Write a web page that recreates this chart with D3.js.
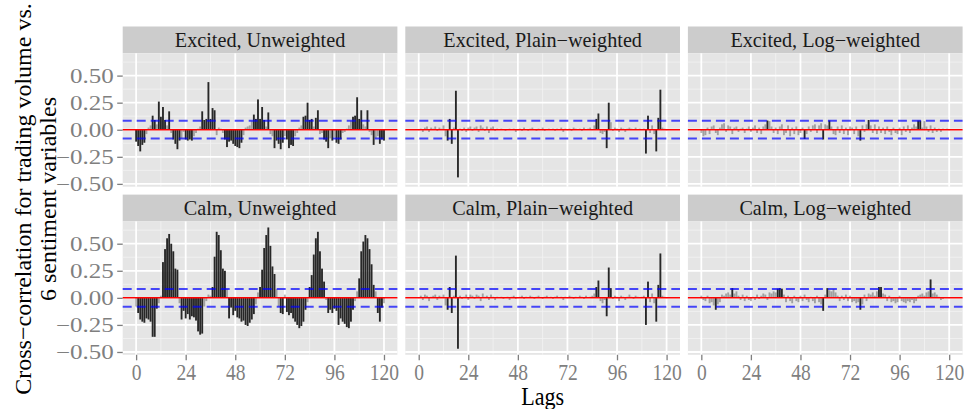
<!DOCTYPE html>
<html><head><meta charset="utf-8">
<script src="https://cdn.jsdelivr.net/npm/d3@7"></script>
<style>body{margin:0;background:#fff} svg{display:block}</style>
</head><body><svg id="c" width="964" height="409"></svg>
<script>
// ---------- data ----------
const lags = d3.range(0, 121);
const rowLabels = ["Excited", "Calm"];
const colLabels = ["Unweighted", "Plain\u2212weighted", "Log\u2212weighted"];
const yTicks = [-0.5, -0.25, 0, 0.25, 0.5];
const xTicks = [0, 24, 48, 72, 96, 120];
const confBand = 0.082;

const excitedUnweighted = [-0.11,-0.15,-0.20,-0.14,-0.12,-0.04,0.02,0.04,0.13,0.09,0.05,0.26,0.12,0.21,0.09,0.04,0.17,-0.03,-0.09,-0.13,-0.18,-0.10,-0.08,-0.02,-0.09,-0.10,-0.09,-0.10,-0.06,-0.03,0.01,0.03,0.17,0.09,0.10,0.44,0.10,0.20,0.18,-0.05,0.02,0.01,-0.03,-0.09,-0.16,-0.11,-0.10,-0.13,-0.15,-0.16,-0.17,-0.12,-0.05,0.02,0.03,0.04,0.08,0.14,0.10,0.28,0.10,0.21,0.09,0.03,0.16,-0.04,-0.06,-0.17,-0.10,-0.13,-0.18,-0.12,-0.06,-0.09,-0.17,-0.14,-0.15,-0.06,-0.03,0.02,0.04,0.12,0.13,0.25,0.09,0.10,0.03,0.11,0.18,-0.04,-0.03,-0.09,-0.11,-0.17,-0.08,-0.10,-0.07,-0.12,-0.13,-0.09,-0.03,-0.02,0.01,0.04,0.08,0.12,0.13,0.30,0.10,0.18,0.05,0.03,0.18,-0.02,-0.05,-0.14,-0.08,-0.06,-0.13,-0.09,-0.10];
const excitedPlain = [0.00,0.01,-0.02,0.02,0.03,-0.02,0.02,0.01,0.03,-0.01,0.02,0.01,0.04,-0.06,-0.10,0.10,-0.13,0.02,0.36,-0.44,0.01,-0.01,0.02,-0.02,0.02,0.03,-0.01,0.02,0.03,-0.02,0.04,0.02,-0.01,0.03,-0.03,0.02,0.03,-0.01,0.01,0.00,0.01,0.00,-0.01,0.00,0.01,0.00,0.01,-0.02,0.00,0.01,-0.01,0.02,0.00,-0.01,0.01,0.02,0.00,-0.01,0.01,0.00,0.02,-0.01,0.00,0.01,0.00,0.01,-0.01,0.01,0.00,0.02,-0.02,0.01,0.00,0.01,-0.01,0.02,0.01,0.00,0.01,-0.01,0.02,0.00,0.01,0.02,0.00,0.04,0.10,0.15,-0.03,-0.04,-0.02,-0.17,0.25,0.07,-0.01,0.02,0.01,-0.02,0.02,0.01,-0.02,0.01,0.02,0.01,0.00,0.02,0.00,0.01,0.00,0.01,-0.22,0.13,-0.03,0.04,-0.04,-0.20,0.11,0.37,0.02,0.01,0.00];
const excitedLog = [-0.03,-0.06,-0.05,0.02,-0.04,0.03,0.04,-0.03,-0.05,0.02,0.05,0.06,-0.02,0.04,0.03,-0.04,0.02,0.03,-0.02,0.01,0.02,-0.03,0.01,0.03,-0.02,0.02,0.04,-0.03,0.02,-0.04,0.03,0.05,0.085,0.08,0.03,-0.03,0.02,-0.04,0.03,0.05,-0.05,-0.03,0.04,-0.06,0.02,-0.04,0.03,-0.05,-0.03,0.02,-0.085,-0.04,0.03,-0.02,0.04,0.05,-0.03,0.04,0.06,-0.09,0.05,0.04,0.085,0.03,-0.04,-0.05,0.03,-0.03,0.04,-0.04,0.02,-0.05,0.03,0.02,-0.04,0.03,-0.06,-0.10,0.04,-0.02,0.05,0.09,0.04,-0.03,0.05,-0.04,0.03,-0.03,0.02,-0.04,0.03,-0.02,-0.05,0.02,-0.03,-0.04,0.02,-0.05,0.03,-0.02,0.04,-0.03,0.02,0.05,0.03,0.085,0.085,0.02,0.08,0.03,-0.02,0.04,-0.03,0.02,-0.02,0.01,-0.02,0.01,0.00,0.01,0.00];
const calmUnweighted = [-0.08,-0.14,-0.20,-0.22,-0.23,-0.19,-0.20,-0.22,-0.36,-0.36,-0.10,-0.05,0.02,0.33,0.45,0.55,0.59,0.50,0.43,0.27,0.26,-0.05,-0.20,-0.12,-0.19,-0.15,-0.20,-0.17,-0.18,-0.21,-0.31,-0.34,-0.33,-0.08,-0.03,0.03,0.02,0.10,0.38,0.61,0.58,0.44,0.27,0.25,0.08,-0.19,-0.09,-0.16,-0.12,-0.18,-0.19,-0.22,-0.21,-0.25,-0.26,-0.23,-0.20,-0.15,-0.06,0.05,0.10,0.26,0.46,0.58,0.65,0.48,0.29,0.22,0.08,-0.08,-0.14,-0.15,0.03,-0.13,-0.16,-0.14,-0.19,-0.22,-0.25,-0.28,-0.26,-0.22,-0.11,-0.04,0.10,0.21,0.40,0.55,0.61,0.43,0.27,0.15,-0.02,-0.14,-0.11,-0.14,-0.10,-0.12,-0.25,-0.19,-0.22,-0.24,-0.27,-0.28,-0.22,-0.11,-0.03,0.06,0.18,0.43,0.52,0.58,0.55,0.45,0.31,0.12,0.06,-0.14,-0.22,-0.09,-0.05];
const calmPlain = [0.00,0.02,-0.02,0.03,0.02,-0.03,0.01,0.02,0.03,-0.02,0.02,0.01,0.03,-0.07,-0.11,0.10,-0.14,0.02,0.39,-0.47,0.02,-0.01,0.01,0.03,-0.02,0.03,0.02,-0.01,0.03,0.02,-0.03,0.04,0.01,0.02,-0.02,0.03,0.01,-0.02,0.01,0.00,0.01,-0.01,0.00,0.01,-0.02,0.01,0.02,-0.01,0.00,0.01,0.02,-0.01,0.01,0.00,0.02,0.01,-0.01,0.01,0.02,0.00,-0.01,0.01,0.02,0.00,0.01,-0.01,0.01,0.02,0.00,0.01,-0.02,0.01,0.00,0.02,0.01,-0.01,0.01,0.00,0.02,0.01,-0.01,0.02,0.00,0.01,0.02,0.04,0.10,0.16,-0.03,-0.05,-0.02,-0.17,0.28,0.09,-0.01,0.02,0.01,-0.03,0.02,0.01,-0.02,0.01,0.03,0.01,-0.01,0.02,0.01,0.00,0.01,0.02,-0.25,0.15,-0.04,0.04,-0.05,-0.22,0.12,0.41,0.02,0.01,0.00];
const calmLog = [0.02,-0.02,-0.03,0.02,-0.05,-0.04,-0.07,-0.11,-0.06,-0.04,0.03,0.02,0.04,0.05,0.03,0.09,0.04,0.06,0.02,-0.02,0.03,-0.03,0.02,-0.02,-0.03,0.01,-0.02,0.03,-0.01,0.02,0.04,0.03,-0.02,0.05,0.04,0.06,0.05,0.085,0.09,0.085,0.03,-0.04,0.02,-0.03,-0.05,0.02,-0.03,-0.04,0.02,-0.03,0.03,-0.02,-0.04,0.01,-0.03,-0.05,0.02,-0.04,-0.06,-0.12,0.03,0.09,0.07,0.06,0.08,0.05,0.02,-0.03,0.02,-0.02,0.03,-0.03,0.02,-0.04,-0.03,-0.05,-0.04,-0.11,-0.06,0.03,-0.03,0.04,0.03,0.05,0.02,0.06,0.10,0.10,0.04,0.03,-0.03,0.02,-0.04,-0.03,-0.05,-0.04,0.02,-0.03,-0.04,-0.05,-0.03,-0.04,-0.02,-0.05,-0.03,0.02,0.03,0.04,0.02,0.05,0.06,0.17,0.04,0.05,0.03,0.01,-0.02,-0.01,0.00,0.00,0.00];

const panelData = [
  [excitedUnweighted, excitedPlain, excitedLog],
  [calmUnweighted, calmPlain, calmLog]
];

// ---------- layout ----------
const svg = d3.select("#c");
const left = 122.7, panelW = 274.7, gap = 7.9;
const stripTop = 26.5, stripH = 26.8, panelH = 133.4;
const serif = "'Liberation Serif','DejaVu Serif',serif";
const yLabSX = 1.25, xLabSX = 0.85;

const all = panelData.flat(2);
const lo = d3.min(all), hi = d3.max(all), ex = (hi - lo) * 0.05;
const yDomain = [lo - ex, hi + ex];
const xDomain = [-0.45 - 120.9 * 0.05, 120.45 + 120.9 * 0.05];

const minorY = [-0.375, -0.125, 0.125, 0.375, 0.625];
const minorX = [12, 36, 60, 84, 108];

panelData.forEach((row, r) => {
  const sTop = stripTop + r * (stripH + panelH + gap);
  const pTop = sTop + stripH;
  const y = d3.scaleLinear().domain(yDomain).range([pTop + panelH, pTop]);
  row.forEach((vals, c) => {
    const pLeft = left + c * (panelW + gap);
    const x = d3.scaleLinear().domain(xDomain).range([pLeft, pLeft + panelW]);
    const g = svg.append("g");
    // strip
    g.append("rect").attr("x", pLeft).attr("y", sTop).attr("width", panelW).attr("height", stripH).attr("fill", "#cccccc");
    g.append("text").attr("x", pLeft + panelW / 2).attr("y", sTop + stripH / 2 + 6.7)
      .attr("text-anchor", "middle").attr("font-family", serif).attr("font-size", 20.2).attr("fill", "#1a1a1a")
      .text(rowLabels[r] + ", " + colLabels[c]);
    // panel bg
    g.append("rect").attr("x", pLeft).attr("y", pTop).attr("width", panelW).attr("height", panelH).attr("fill", "#e5e5e5");
    // minor grid
    g.selectAll(".my").data(minorY.filter(v => v >= yDomain[0] && v <= yDomain[1])).enter().append("line")
      .attr("x1", pLeft).attr("x2", pLeft + panelW).attr("y1", d => y(d)).attr("y2", d => y(d))
      .attr("stroke", "#f2f2f2").attr("stroke-width", 0.9);
    g.selectAll(".mx").data(minorX).enter().append("line")
      .attr("y1", pTop).attr("y2", pTop + panelH).attr("x1", d => x(d)).attr("x2", d => x(d))
      .attr("stroke", "#f2f2f2").attr("stroke-width", 0.9);
    // major grid
    g.selectAll(".Y").data(yTicks).enter().append("line")
      .attr("x1", pLeft).attr("x2", pLeft + panelW).attr("y1", d => y(d)).attr("y2", d => y(d))
      .attr("stroke", "#ffffff").attr("stroke-width", 1.8);
    g.selectAll(".X").data(xTicks).enter().append("line")
      .attr("y1", pTop).attr("y2", pTop + panelH).attr("x1", d => x(d)).attr("x2", d => x(d))
      .attr("stroke", "#ffffff").attr("stroke-width", 1.8);
    // bars
    const bw = x(0.45) - x(-0.45);
    g.selectAll(".bar").data(vals).enter().append("rect")
      .attr("x", (d, i) => x(lags[i] - 0.45)).attr("width", bw)
      .attr("y", d => y(Math.max(0, d))).attr("height", d => Math.abs(y(d) - y(0)))
      .attr("fill", d => Math.abs(d) > confBand ? "#1c1c1c" : "#000000")
      .attr("fill-opacity", d => Math.abs(d) > confBand ? 0.95 : 0.3);
    // zero line
    g.append("line").attr("x1", pLeft).attr("x2", pLeft + panelW).attr("y1", y(0)).attr("y2", y(0))
      .attr("stroke", "#ff0000").attr("stroke-width", 1.5);
    // conf band
    g.selectAll(".cb").data([confBand, -confBand]).enter().append("line")
      .attr("x1", pLeft).attr("x2", pLeft + panelW).attr("y1", d => y(d)).attr("y2", d => y(d))
      .attr("stroke", "#0000ff").attr("stroke-opacity", 0.7).attr("stroke-width", 2)
      .attr("stroke-dasharray", "9,5");
    // y axis
    if (c === 0) {
      const ya = svg.append("g").attr("transform", `translate(${pLeft},0)`)
        .call(d3.axisLeft(y).tickValues(yTicks).tickSize(5.5).tickPadding(3.5)
          .tickFormat(d => d3.format(".2f")(d).replace("-", "\u2212")));
      ya.select(".domain").remove();
      ya.selectAll(".tick line").attr("stroke", "#7f7f7f").attr("stroke-width", 1.3);
      ya.selectAll(".tick text").attr("font-family", serif).attr("font-size", 20).attr("fill", "#7f7f7f")
        .attr("x", -9 / yLabSX).attr("transform", `scale(${yLabSX},1)`);
    }
    // x axis
    if (r === 1) {
      const xa = svg.append("g").attr("transform", `translate(0,${pTop + panelH})`)
        .call(d3.axisBottom(x).tickValues(xTicks).tickSize(5.5).tickPadding(3));
      xa.select(".domain").remove();
      xa.selectAll(".tick line").attr("stroke", "#7f7f7f").attr("stroke-width", 1.3);
      xa.selectAll(".tick text").attr("font-family", serif).attr("font-size", 23).attr("fill", "#7f7f7f")
        .attr("transform", `scale(${xLabSX},1)`);
    }
  });
});

// axis titles
svg.append("text").attr("transform", `translate(${left + (3 * panelW + 2 * gap) / 2},405) scale(0.85,1)`)
  .attr("text-anchor", "middle").attr("font-family", serif).attr("font-size", 26).attr("fill", "#000")
  .text("Lags");
const yt = svg.append("text").attr("transform", "translate(0,199) rotate(-90)")
  .attr("text-anchor", "middle").attr("font-family", serif).attr("font-size", 24).attr("fill", "#000");
yt.append("tspan").attr("x", 0).attr("y", 31).text("Cross\u2212correlation for trading volume vs.");
yt.append("tspan").attr("x", 0).attr("y", 56).text("6 sentiment variables");
</script></body></html>
